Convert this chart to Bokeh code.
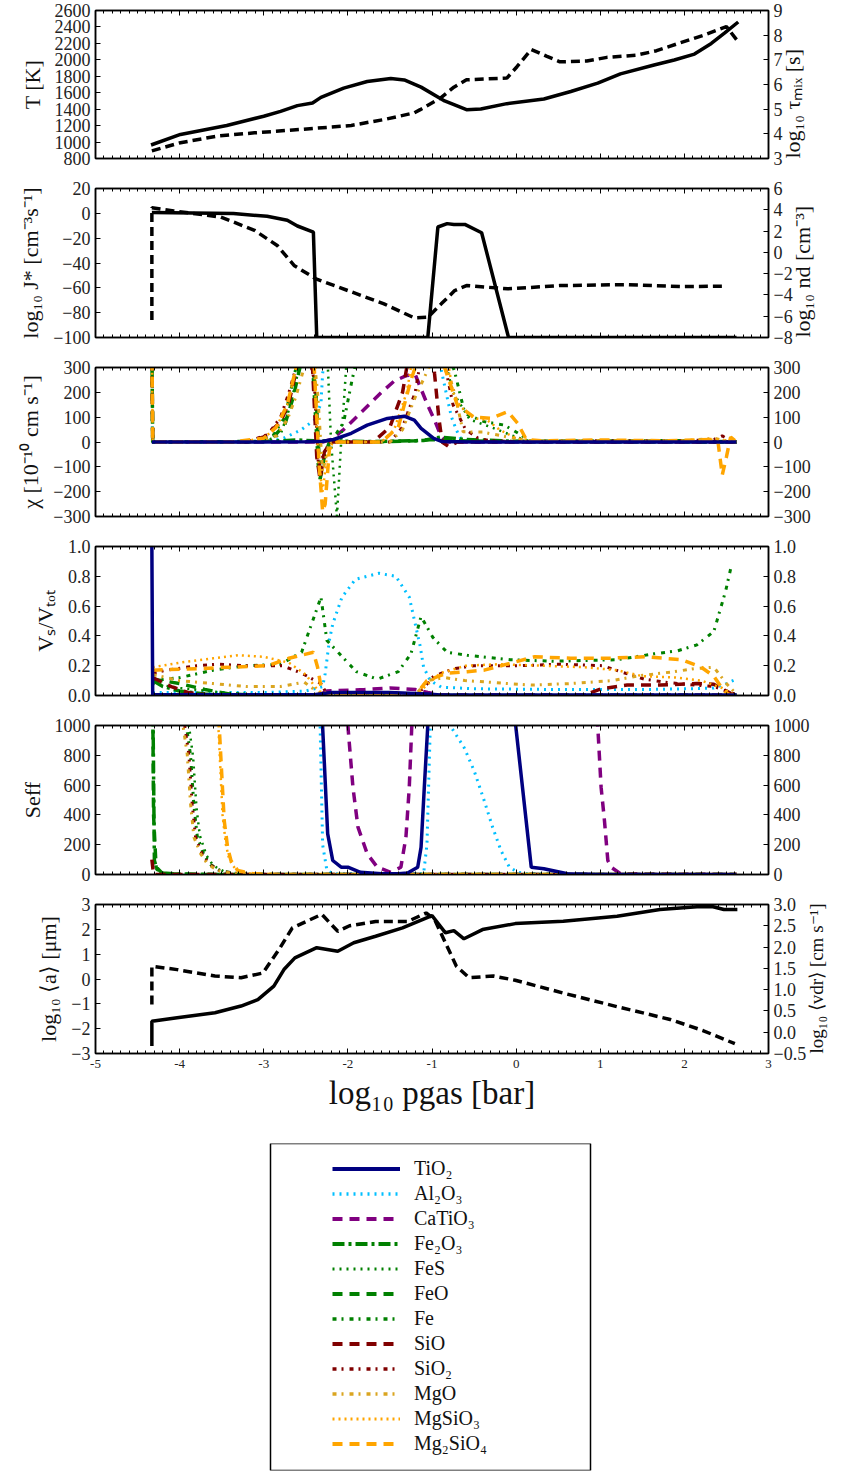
import math
from bokeh.plotting import figure
from bokeh.models import Range1d, LinearAxis, FixedTicker, SingleIntervalTicker, Legend, LegendItem, BoxAnnotation
from bokeh.layouts import column
from bokeh.embed import file_html
from bokeh.resources import INLINE

# ---------------- DATA ----------------
# panel 1: temperature (left) and mixing time scale (right)
T_x = [-4.34, -3.99, -3.44, -3.0, -2.80, -2.60, -2.42, -2.32, -2.05, -1.77, -1.49, -1.33, -1.13, -0.85,
       -0.59, -0.42, -0.11, 0.33, 0.65, 0.97, 1.24, 1.64, 1.88, 2.12, 2.32, 2.48, 2.64]
T_K = [964, 1093, 1202, 1314, 1374, 1443, 1475, 1543, 1656, 1736, 1772, 1756, 1668, 1500,
       1394, 1403, 1467, 1524, 1615, 1716, 1829, 1937, 1998, 2070, 2199, 2327, 2460]
tmix_x = [-4.33, -3.99, -3.55, -3.11, -2.55, -1.96, -1.57, -1.21, -1.14, -0.90, -0.74, -0.59, -0.11,
          0.01, 0.18, 0.36, 0.52, 0.84, 1.08, 1.43, 1.67, 1.95, 2.23, 2.50, 2.62]
log_tmix = [3.31, 3.64, 3.91, 4.04, 4.18, 4.34, 4.58, 4.85, 4.98, 5.45, 5.89, 6.19, 6.26,
            6.72, 7.42, 7.15, 6.92, 6.95, 7.10, 7.19, 7.37, 7.69, 8.0, 8.35, 7.82]

# panel 2: nucleation rate (left) and dust number density (right)
J_x = [-4.33, -3.36, -2.96, -2.72, -2.60, -2.41, -2.37, -1.05, -0.93, -0.82, -0.74, -0.61, -0.41, -0.09, 2.62]
log_J = [0.6, -0.2, -2.4, -5.6, -10.2, -15.1, -100, -100, -11.0, -8.3, -9.0, -8.9, -15.6, -100, -100]
nd_x = [-4.33, -4.33, -4.07, -3.51, -3.11, -2.84, -2.64, -2.38, -2.0, -1.57, -1.21, -1.05, -0.89, -0.73,
        -0.59, -0.10, 0.52, 1.32, 1.95, 2.50]
log_nd = [-6.35, 4.2, 3.89, 3.32, 2.07, 0.65, -1.23, -2.49, -3.59, -4.84, -6.16, -6.1, -4.84, -3.59,
          -3.12, -3.43, -3.12, -3.03, -3.21, -3.18]

# panel 3: net growth velocity chi per species
chi_TiO2_x = [-4.33, -3.0, -2.5, -2.3, -2.17, -1.96, -1.77, -1.53, -1.33, -1.21, -1.13, -0.98, -0.88, -0.5, 0.5, 1.5, 2.62]
chi_TiO2 = [0, 0, 1, 3, 10, 35, 68, 95, 104, 88, 55, 15, 2, 0, 0, 0, 0]
chi_Al2O3_x = [-4.33, -4.32, -3.5, -2.9, -2.76, -2.56, -2.40, -2.32, -2.30, -2.25, -0.95, -0.89, -0.83, -0.77,
               -0.71, -0.66, -0.55, 0.5, 1.5, 2.62]
chi_Al2O3 = [120, 0, 0, 3, 16, 48, 88, 155, 276, 400, 400, 290, 195, 102, 48, 15, 2, 1, 1, 0]
chi_CaTiO3_x = [-4.33, -2.3, -2.2, -2.05, -1.9, -1.75, -1.6, -1.45, -1.3, -1.2, -1.14, -1.06, -0.97, -0.89, -0.82, 0.0, 2.62]
chi_CaTiO3 = [0, 0, 10, 50, 100, 150, 200, 245, 268, 272, 222, 155, 88, 21, 0, 0, 0]
chi_Fe2O3_x = [-4.33, -4.32, -3.0, -2.6, -2.4, -2.2, -1.6, -1.1, -0.9, -0.6, 0.0, 1.0, 2.0, 2.62]
chi_Fe2O3 = [400, 0, 2, 8, 5, 3, 2, 6, 20, 10, 3, 4, 5, 0]
chi_FeS_x = [-4.33, -4.32, -3.0, -2.8, -2.68, -2.58, -2.48, -2.25, -2.2, -2.13, -2.08, -2.02, -1.95, -0.9,
             -0.75, -0.55, -0.3, 0.0, 0.2, 1.0, 2.0, 2.62]
chi_FeS = [400, 0, 0, 30, 150, 300, 400, 400, 0, -300, 0, 300, 400, 400, 200, 90, 60, 20, 0, 3, 3, 0]
chi_FeO_x = [-4.33, -4.32, -3.1, -2.9, -2.75, -2.65, -2.57, -2.45, -2.38, -2.33, -2.28, -2.22, -2.15, -1.5,
             -1.2, -1.0, -0.8, 0.0, 2.62]
chi_FeO = [400, 0, 0, 15, 70, 180, 300, 400, 200, -150, -60, 0, 0, 2, 5, 10, 5, 2, 0]
chi_Fe_x = [-4.33, -4.32, -3.2, -2.9, -2.75, -2.65, -2.55, -2.42, -2.35, -2.28, -2.2, -2.05, -1.95, -1.85,
            -0.85, -0.73, -0.61, -0.38, -0.14, 0.06, 0.18, 1.0, 2.0, 2.62]
chi_Fe = [400, 0, 0, 20, 100, 250, 400, 300, -120, -50, 0, 80, 250, 400, 400, 282, 115, 82, 68, 28, 0, 5, 5, 0]
chi_SiO_x = [-4.33, -4.32, -3.2, -3.0, -2.8, -2.7, -2.62, -2.55, -2.42, -2.37, -2.33, -2.28, -2.2, -1.7, -1.5,
             -1.35, -1.25, -1.0, -0.97, -0.92, -0.88, -0.8, -0.7, 0.0, 2.62]
chi_SiO = [400, 0, 0, 20, 80, 160, 280, 400, 300, -60, -150, -40, 0, 0, 60, 200, 400, 400, 276, 101, 0, -19, 0, 0, 0]
chi_SiO2_x = [-4.33, -4.32, -3.2, -2.95, -2.8, -2.7, -2.6, -2.5, -2.4, -2.35, -2.3, -2.22, -1.5, -1.35, -1.2,
              -1.1, -0.9, -0.75, -0.6, -0.45, -0.3, 0.0, 1.0, 2.0, 2.35, 2.45, 2.55, 2.62]
chi_SiO2 = [400, 0, 0, 30, 100, 200, 320, 400, 250, -100, -60, 0, 0, 60, 200, 400, 400, 150, 50, 15, 5, 2, 5, 5, 10, 25, 5, 0]
chi_MgO_x = [-4.33, -4.32, -3.1, -2.85, -2.72, -2.62, -2.52, -2.42, -2.36, -2.3, -2.22, -1.5, -1.35, -1.2, -0.9,
             -0.78, -0.73, -0.63, -0.4, -0.1, 0.2, 1.0, 2.0, 2.35, 2.5, 2.62]
chi_MgO = [400, 0, 0, 25, 90, 180, 300, 400, 200, -120, 0, 0, 50, 180, 400, 250, 195, 41, 40, 20, 3, 5, 5, 15, 5, 0]
chi_MgSiO3_x = [-4.33, -4.32, -3.3, -3.0, -2.85, -2.72, -2.63, -2.55, -2.4, -2.35, -2.3, -2.25, -2.18, -1.6,
                -1.45, -1.3, -1.2, -0.85, -0.75, -0.66, -0.5, -0.35, -0.2, 0.0, 0.2, 1.0, 2.0, 2.4, 2.62]
chi_MgSiO3 = [400, 0, 0, 15, 60, 150, 280, 400, 300, -80, -200, -60, 0, 0, 50, 200, 400, 400, 200, 142, 95, 90,
              50, 15, 5, 5, 5, 10, 0]
chi_Mg2SiO4_x = [-4.33, -4.32, -3.4, -3.0, -2.85, -2.72, -2.63, -2.55, -2.4, -2.34, -2.3, -2.27, -2.22, -2.15,
                 -1.6, -1.4, -1.25, -1.1, -0.85, -0.7, -0.5, -0.3, -0.1, 0.02, 0.12, 0.3, 1.0, 1.8, 2.35, 2.4,
                 2.45, 2.5, 2.55, 2.62]
chi_Mg2SiO4 = [400, 0, 0, 15, 60, 150, 280, 400, 300, -100, -280, -250, -30, 0, 0, 60, 250, 400, 300, 150, 100,
               95, 122, 75, 10, 5, 8, 5, 10, 0, -133, -60, 20, 0]

# panel 4: volume fractions
Vs_TiO2_x = [-4.33, -4.32, -2.4, -2.2, -1.5, -1.05, -0.9, 2.62]
Vs_TiO2 = [1.0, 0.005, 0.005, 0.02, 0.02, 0.01, 0.003, 0.003]
Vs_Al2O3_x = [-4.32, -3.0, -2.5, -2.36, -2.3, -2.27, -2.22, -2.18, -2.07, -1.91, -1.63, -1.43, -1.27, -1.14,
              -1.10, -1.02, -0.89, -0.5, 0.5, 1.5, 2.03, 2.35, 2.5, 2.62]
Vs_Al2O3 = [0.02, 0.02, 0.03, 0.05, 0.06, 0.146, 0.37, 0.48, 0.66, 0.78, 0.82, 0.80, 0.66, 0.33,
            0.19, 0.10, 0.056, 0.045, 0.04, 0.04, 0.045, 0.05, 0.08, 0.11]
Vs_CaTiO3_x = [-4.32, -2.35, -2.25, -1.8, -1.5, -1.2, -1.05, -0.9, 2.62]
Vs_CaTiO3 = [0, 0, 0.03, 0.04, 0.05, 0.04, 0.02, 0.005, 0.003]
Vs_Fe2O3_x = [-4.32, -4.2, -4.0, -3.7, -3.4, 2.62]
Vs_Fe2O3 = [0.1, 0.06, 0.03, 0.01, 0.0, 0.0]
Vs_FeS_x = [-4.32, -4.0, -3.5, -3.0, 2.62]
Vs_FeS = [0.08, 0.05, 0.02, 0.005, 0.0]
Vs_FeO_x = [-4.32, -4.0, -3.7, -3.4, -3.0, 2.62]
Vs_FeO = [0.11, 0.08, 0.04, 0.01, 0.0, 0.0]
Vs_Fe_x = [-4.32, -4.0, -3.6, -3.2, -2.8, -2.55, -2.4, -2.32, -2.25, -2.1, -1.9, -1.65, -1.4, -1.25, -1.13,
           -0.99, -0.82, -0.58, -0.07, 0.45, 1.2, 1.64, 1.92, 2.15, 2.35, 2.49, 2.55]
Vs_Fe = [0.10, 0.12, 0.17, 0.20, 0.21, 0.29, 0.53, 0.66, 0.37, 0.28, 0.16, 0.11, 0.16, 0.28, 0.53,
         0.39, 0.29, 0.27, 0.24, 0.23, 0.24, 0.28, 0.30, 0.34, 0.43, 0.70, 0.85]
Vs_SiO_x = [-4.32, -4.1, -3.9, -3.6, 0.8, 1.01, 1.32, 1.72, 2.15, 2.35, 2.5, 2.6]
Vs_SiO = [0.12, 0.06, 0.02, 0.0, 0.0, 0.045, 0.07, 0.07, 0.08, 0.075, 0.03, 0.0]
Vs_SiO2_x = [-4.32, -4.15, -3.8, -3.55, -3.2, -2.78, -2.55, -2.32, -2.25, -1.2, -1.1, -0.98, -0.74, -0.5,
             0.02, 0.52, 1.03, 1.24, 1.52, 1.76, 2.12, 2.35, 2.6]
Vs_SiO2 = [0.15, 0.17, 0.2, 0.21, 0.2, 0.2, 0.15, 0.08, 0.01, 0.0, 0.05, 0.13, 0.18, 0.2,
           0.2, 0.21, 0.2, 0.16, 0.11, 0.09, 0.07, 0.06, 0.01]
Vs_MgO_x = [-4.32, -4.0, -3.6, -3.2, -2.8, -2.52, -2.35, -2.2, -1.2, -1.06, -0.85, -0.61, -0.34, -0.1, 0.18,
            0.65, 1.15, 1.43, 1.88, 2.12, 2.35, 2.5, 2.6]
Vs_MgO = [0.14, 0.1, 0.08, 0.06, 0.06, 0.09, 0.02, 0.0, 0.0, 0.1, 0.12, 0.1, 0.09, 0.08, 0.07,
          0.08, 0.1, 0.13, 0.16, 0.18, 0.19, 0.08, 0.02]
Vs_MgSiO3_x = [-4.32, -4.0, -3.6, -3.3, -3.0, -2.7, -2.5, -2.35, -2.2, -1.2, -1.1, -0.9, -0.6, -0.2, 0.3, 0.8,
               1.2, 1.5, 1.9, 2.2, 2.45, 2.6]
Vs_MgSiO3 = [0.19, 0.22, 0.25, 0.27, 0.26, 0.22, 0.14, 0.03, 0.0, 0.0, 0.05, 0.15, 0.2, 0.21, 0.2, 0.19,
             0.17, 0.13, 0.12, 0.1, 0.05, 0.0]
Vs_Mg2SiO4_x = [-4.32, -3.79, -3.4, -2.95, -2.7, -2.41, -2.36, -2.32, -2.25, -1.2, -1.06, -0.82, -0.58, -0.38,
                -0.18, 0.22, 0.65, 1.09, 1.53, 1.97, 2.2, 2.35, 2.47, 2.55]
Vs_Mg2SiO4 = [0.17, 0.18, 0.19, 0.2, 0.25, 0.29, 0.19, 0.06, 0.0, 0.0, 0.10, 0.15, 0.16, 0.17,
              0.20, 0.26, 0.25, 0.25, 0.26, 0.24, 0.19, 0.13, 0.03, 0.0]

# panel 5: effective supersaturation
S_TiO2_x = [-4.33, -2.35, -2.30, -2.24, -2.18, -2.08, -2.0, -1.85, -1.6, -1.4, -1.29, -1.17, -1.13, -1.09,
            -1.05, -1.0, -0.2, 0.18, 0.33, 0.61, 1.0, 2.62]
S_TiO2 = [2000, 2000, 990, 273, 94, 49, 49, 15, 5, 5, 10, 49, 183, 600, 1000, 2000, 2000, 49, 38, 5, 0, 0]
S_Al2O3_x = [-4.33, -2.37, -2.33, -2.30, -2.25, -2.18, -1.5, -1.1, -1.06, -1.02, -0.98, -0.85, -0.76, -0.62,
             -0.5, -0.38, -0.28, -0.18, -0.08, 0.02, 0.15, 2.62]
S_Al2O3 = [2000, 2000, 1000, 200, 30, 5, 3, 5, 200, 1000, 2000, 1500, 978, 854, 698, 497, 318, 161, 49, 15, 3, 0]
S_CaTiO3_x = [-4.33, -2.05, -2.0, -1.94, -1.88, -1.77, -1.65, -1.49, -1.37, -1.31, -1.27, -1.24, -1.2, 0.9,
              0.97, 1.01, 1.05, 1.09, 1.13, 1.24, 2.62]
S_CaTiO3 = [2000, 2000, 1000, 586, 318, 139, 49, 15, 49, 250, 586, 1000, 2000, 2000, 1000, 586, 362, 94, 49, 5, 0]
S_Fe2O3_x = [-4.33, -4.315, -4.30, -4.27, -4.2, -4.0, -3.5, 2.62]
S_Fe2O3 = [2000, 1000, 94, 35, 10, 3, 0, 0]
S_FeS_x = [-4.33, -3.93, -3.89, -3.84, -3.80, -3.76, -3.68, -3.60, -3.48, -3.28, -3.0, 2.62]
S_FeS = [2000, 2000, 1000, 790, 450, 262, 127, 60, 22, 4, 0, 0]
S_FeO_x = [-4.33, -4.31, -4.28, -4.2, -3.8, 2.62]
S_FeO = [2000, 400, 50, 5, 0, 0]
S_Fe_x = [-4.33, -3.96, -3.92, -3.87, -3.83, -3.79, -3.71, -3.63, -3.51, -3.31, -3.0, 2.62]
S_Fe = [2000, 2000, 1000, 800, 460, 255, 130, 66, 24, 5, 0, 0]
S_SiO_x = [-4.33, -4.31, 2.62]
S_SiO = [100, 0, 0]
S_SiO2_x = [-4.33, -3.98, -3.94, -3.89, -3.85, -3.81, -3.73, -3.65, -3.53, -3.33, -3.0, 2.62]
S_SiO2 = [2000, 2000, 1000, 805, 470, 250, 135, 70, 26, 5, 0, 0]
S_MgO_x = [-4.33, -4.0, -3.96, -3.91, -3.87, -3.83, -3.75, -3.67, -3.55, -3.35, -3.0, 2.62]
S_MgO = [2000, 2000, 1000, 810, 474, 250, 139, 72, 27, 5, 0, 0]
S_MgSiO3_x = [-4.33, -3.59, -3.54, -3.49, -3.45, -3.41, -3.33, -3.15, -2.8, 2.62]
S_MgSiO3 = [2000, 2000, 1000, 400, 200, 100, 30, 6, 0, 0]
S_Mg2SiO4_x = [-4.33, -3.58, -3.53, -3.47, -3.43, -3.39, -3.31, -3.13, -2.8, 2.62]
S_Mg2SiO4 = [2000, 2000, 1000, 362, 183, 94, 27, 5, 0, 0]

# panel 6: mean grain size (left) and drift velocity (right)
a_x = [-4.33, -4.33, -4.03, -3.58, -3.27, -3.07, -2.88, -2.76, -2.63, -2.37, -2.12, -1.93, -1.67, -1.35, -1.0,
       -0.84, -0.74, -0.62, -0.40, -0.01, 0.56, 1.20, 1.71, 2.15, 2.34, 2.47, 2.63]
log_a = [-2.7, -1.7, -1.56, -1.36, -1.09, -0.83, -0.29, 0.38, 0.85, 1.26, 1.12, 1.46, 1.72, 2.06, 2.55,
         1.86, 1.95, 1.62, 1.99, 2.23, 2.33, 2.53, 2.80, 2.91, 2.91, 2.80, 2.80]
vdr_x = [-4.33, -4.33, -4.03, -3.58, -3.27, -3.01, -2.82, -2.66, -2.31, -2.12, -1.98, -1.67, -1.29, -1.07,
         -0.97, -0.84, -0.71, -0.56, -0.27, -0.01, 0.56, 1.20, 1.83, 2.22, 2.60]
log_vdr = [0.65, 1.55, 1.47, 1.32, 1.28, 1.39, 1.94, 2.45, 2.77, 2.37, 2.5, 2.6, 2.6, 2.8,
           2.65, 2.1, 1.55, 1.28, 1.32, 1.22, 0.92, 0.6, 0.3, 0.04, -0.27]

# species, legend labels
SPECIES = ["TiO2", "Al2O3", "CaTiO3", "Fe2O3", "FeS", "FeO", "Fe", "SiO", "SiO2", "MgO", "MgSiO3", "Mg2SiO4"]
LABELS = ["TiO\u2082", "Al\u2082O\u2083", "CaTiO\u2083", "Fe\u2082O\u2083", "FeS", "FeO", "Fe", "SiO",
          "SiO\u2082", "MgO", "MgSiO\u2083", "Mg\u2082SiO\u2084"]
X_TICKS = [-5, -4, -3, -2, -1, 0, 1, 2, 3]

# styles (not data)
COLORS = ["#000080", "#00bfff", "#800080", "#008000", "#008000", "#008000", "#008000",
          "#800000", "#800000", "#daa520", "#ffa500", "#ffa500"]
DASHES = ["solid", "2 5", "10 7", "12 4 3 4", "2 5", "10 7", "4 5 2 6",
          "10 7", "4 5 2 6", "4 5 2 6", "2 4", "10 7"]
WIDTHS = [3.5, 3, 3.5, 3.5, 2.5, 3.5, 3, 3.5, 3, 3, 2.5, 3.5]

CHI = {s: (globals()["chi_" + s + "_x"], globals()["chi_" + s]) for s in SPECIES}
VS = {s: (globals()["Vs_" + s + "_x"], globals()["Vs_" + s]) for s in SPECIES}
SEFF = {s: (globals()["S_" + s + "_x"], globals()["S_" + s]) for s in SPECIES}

# ---------------- STYLE / LAYOUT ----------------
FONT = "Liberation Serif"
XR = Range1d(-5, 3)
MINUS = "\u2212"
LB, FW, RB = 95, 673, 73


def fmt(v, dec):
    return (f"{v:.{dec}f}").replace("-", MINUS)


def base_style(ax):
    ax.axis_line_color = "black"
    ax.axis_line_width = 1.5
    ax.major_tick_line_color = "black"
    ax.major_tick_line_width = 1
    ax.minor_tick_line_color = "black"
    ax.minor_tick_line_width = 1
    ax.major_tick_in = 5
    ax.major_tick_out = 0
    ax.minor_tick_in = 3
    ax.minor_tick_out = 0
    ax.major_label_text_font = FONT
    ax.major_label_text_font_size = "18px"
    ax.major_label_text_color = "#222222"
    ax.axis_label_text_font = FONT
    ax.axis_label_text_font_style = "normal"
    ax.axis_label_text_font_size = "22px"
    ax.axis_label_text_color = "#111111"
    ax.major_label_standoff = 5
    ax.axis_label_standoff = 7


PROPS = LinearAxis.properties()


def y_axis(p, side, ticks, dec, label, rname=None, label_size="22px"):
    kw = {"y_range_name": rname} if rname else {}
    ax = LinearAxis(ticker=FixedTicker(ticks=ticks, minor_ticks=[]), **kw)
    base_style(ax)
    ax.major_label_overrides = {float(t): fmt(t, dec) for t in ticks}
    if label:
        ax.axis_label = label
        ax.axis_label_text_font_size = label_size
        if side == "right" and "axis_label_orientation" in PROPS:
            ax.axis_label_orientation = math.pi / 2
            if "axis_label_align" in PROPS:
                ax.axis_label_align = "start"
    p.add_layout(ax, side)


def x_axes(p, labels=False, title=None):
    for side in ("above", "below"):
        ax = LinearAxis(ticker=SingleIntervalTicker(interval=1, num_minor_ticks=10))
        base_style(ax)
        if side == "below" and labels:
            ax.major_label_text_font_size = "13px"
            ax.major_label_overrides = {float(t): str(t) for t in X_TICKS}
            ax.major_label_standoff = 6
            ax.axis_label = title
            ax.axis_label_text_font_size = "33px"
            ax.axis_label_standoff = 4
        else:
            ax.major_label_text_font_size = "1px"
            ax.major_label_text_color = None
            ax.major_label_standoff = 0
        p.add_layout(ax, side)


def make_fig(fh, top, bottom, ylim, rlim):
    p = figure(frame_width=FW, frame_height=fh, min_border_left=LB, min_border_right=RB,
               min_border_top=top, min_border_bottom=bottom,
               x_range=XR, y_range=Range1d(*ylim), x_axis_type=None, y_axis_type=None,
               toolbar_location=None, output_backend="svg")
    p.extra_y_ranges = {"r": Range1d(*rlim)}
    p.outline_line_color = "black"
    p.outline_line_width = 1.5
    p.outline_line_alpha = 1.0
    p.background_fill_color = "white"
    p.border_fill_color = "white"
    return p


def draw_species(p, data):
    order = SPECIES[1:] + SPECIES[:1]
    for s in order:
        i = SPECIES.index(s)
        xs, ys = data[s]
        p.line(xs, ys, line_color=COLORS[i], line_width=WIDTHS[i], line_dash=DASHES[i])


BLACK_DASH = "9 5"

# panel 1
p1 = make_fig(148, 10, 15, (800, 2600), (3, 9))
p1.line(T_x, T_K, line_color="black", line_width=3.5)
p1.line(tmix_x, log_tmix, line_color="black", line_width=3.5, line_dash=BLACK_DASH, y_range_name="r")
y_axis(p1, "left", list(range(800, 2601, 200)), 0, "T [K]")
y_axis(p1, "right", list(range(3, 10)), 0, "log\u2081\u2080 \u03c4\u2098\u1d62\u2093 [s]", "r")
x_axes(p1)

# panel 2
p2 = make_fig(149, 15, 15, (-100, 20), (-8, 6))
p2.line(J_x, log_J, line_color="black", line_width=3.5)
p2.line(nd_x, log_nd, line_color="black", line_width=3.5, line_dash=BLACK_DASH, y_range_name="r")
y_axis(p2, "left", list(range(-100, 21, 20)), 0, "log\u2081\u2080 J* [cm\u207b\u00b3s\u207b\u00b9]")
y_axis(p2, "right", list(range(-8, 7, 2)), 0, "log\u2081\u2080 nd [cm\u207b\u00b3]", "r")
x_axes(p2)

# panel 3
p3 = make_fig(149, 15, 15, (-300, 300), (-300, 300))
draw_species(p3, CHI)
y_axis(p3, "left", list(range(-300, 301, 100)), 0, "\u03c7 [10\u207b\u00b9\u2070 cm s\u207b\u00b9]")
y_axis(p3, "right", list(range(-300, 301, 100)), 0, None, "r")
x_axes(p3)

# panel 4
p4 = make_fig(149, 15, 15, (0, 1), (0, 1))
draw_species(p4, VS)
vt = [0.0, 0.2, 0.4, 0.6, 0.8, 1.0]
y_axis(p4, "left", vt, 1, "V\u209b/V\u209c\u2092\u209c")
y_axis(p4, "right", vt, 1, None, "r")
x_axes(p4)

# panel 5
p5 = make_fig(149, 15, 15, (0, 1000), (0, 1000))
draw_species(p5, SEFF)
y_axis(p5, "left", list(range(0, 1001, 200)), 0, "Seff")
y_axis(p5, "right", list(range(0, 1001, 200)), 0, None, "r")
x_axes(p5)

# panel 6
p6 = make_fig(149, 15, 70, (-3, 3), (-0.5, 3.0))
p6.line(a_x, log_a, line_color="black", line_width=3.5)
p6.line(vdr_x, log_vdr, line_color="black", line_width=3.5, line_dash=BLACK_DASH, y_range_name="r")
y_axis(p6, "left", list(range(-3, 4)), 0, "log\u2081\u2080 \u27e8a\u27e9 [\u03bcm]")
y_axis(p6, "right", [-0.5, 0.0, 0.5, 1.0, 1.5, 2.0, 2.5, 3.0], 1,
       "log\u2081\u2080 \u27e8vdr\u27e9 [cm s\u207b\u00b9]", "r", label_size="19px")
x_axes(p6, labels=True, title="log\u2081\u2080 pgas [bar]")

# legend panel (same frame geometry as the panels so the column stays aligned)
LEG_H = 327
lg = figure(frame_width=FW, frame_height=LEG_H, min_border_left=LB, min_border_right=RB,
            min_border_top=20, min_border_bottom=1, x_range=Range1d(0, FW), y_range=Range1d(0, LEG_H),
            x_axis_type=None, y_axis_type=None, toolbar_location=None, output_backend="svg")
lg.outline_line_color = None
lg.background_fill_color = "white"
lg.border_fill_color = "white"
lg.extra_y_ranges = {"hidden": Range1d(1.0e6, 1.0e6 + 1)}
lg.add_layout(BoxAnnotation(left=175, right=495, bottom=0, top=LEG_H, fill_alpha=0,
                            line_color="black", line_alpha=1.0, line_width=1.5))
items = []
for i, s in enumerate(SPECIES):
    xs, ys = SEFF[s]
    r = lg.line(xs, ys, y_range_name="hidden", line_color=COLORS[i], line_width=WIDTHS[i] + 0.5,
                line_dash=DASHES[i])
    items.append(LegendItem(label=LABELS[i], renderers=[r]))
leg = Legend(items=items, location=(237, 14))
leg.padding = 0
leg.margin = 0
leg.spacing = 0
leg.glyph_width = 68
leg.glyph_height = 25
leg.label_height = 25
leg.label_standoff = 14
leg.label_text_font = FONT
leg.label_text_font_size = "20px"
leg.label_text_color = "#111111"
leg.border_line_alpha = 0
leg.background_fill_alpha = 0
lg.add_layout(leg, "center")

layout = column(p1, p2, p3, p4, p5, p6, lg, spacing=0)
open("out.html", "w").write(file_html(layout, INLINE))
